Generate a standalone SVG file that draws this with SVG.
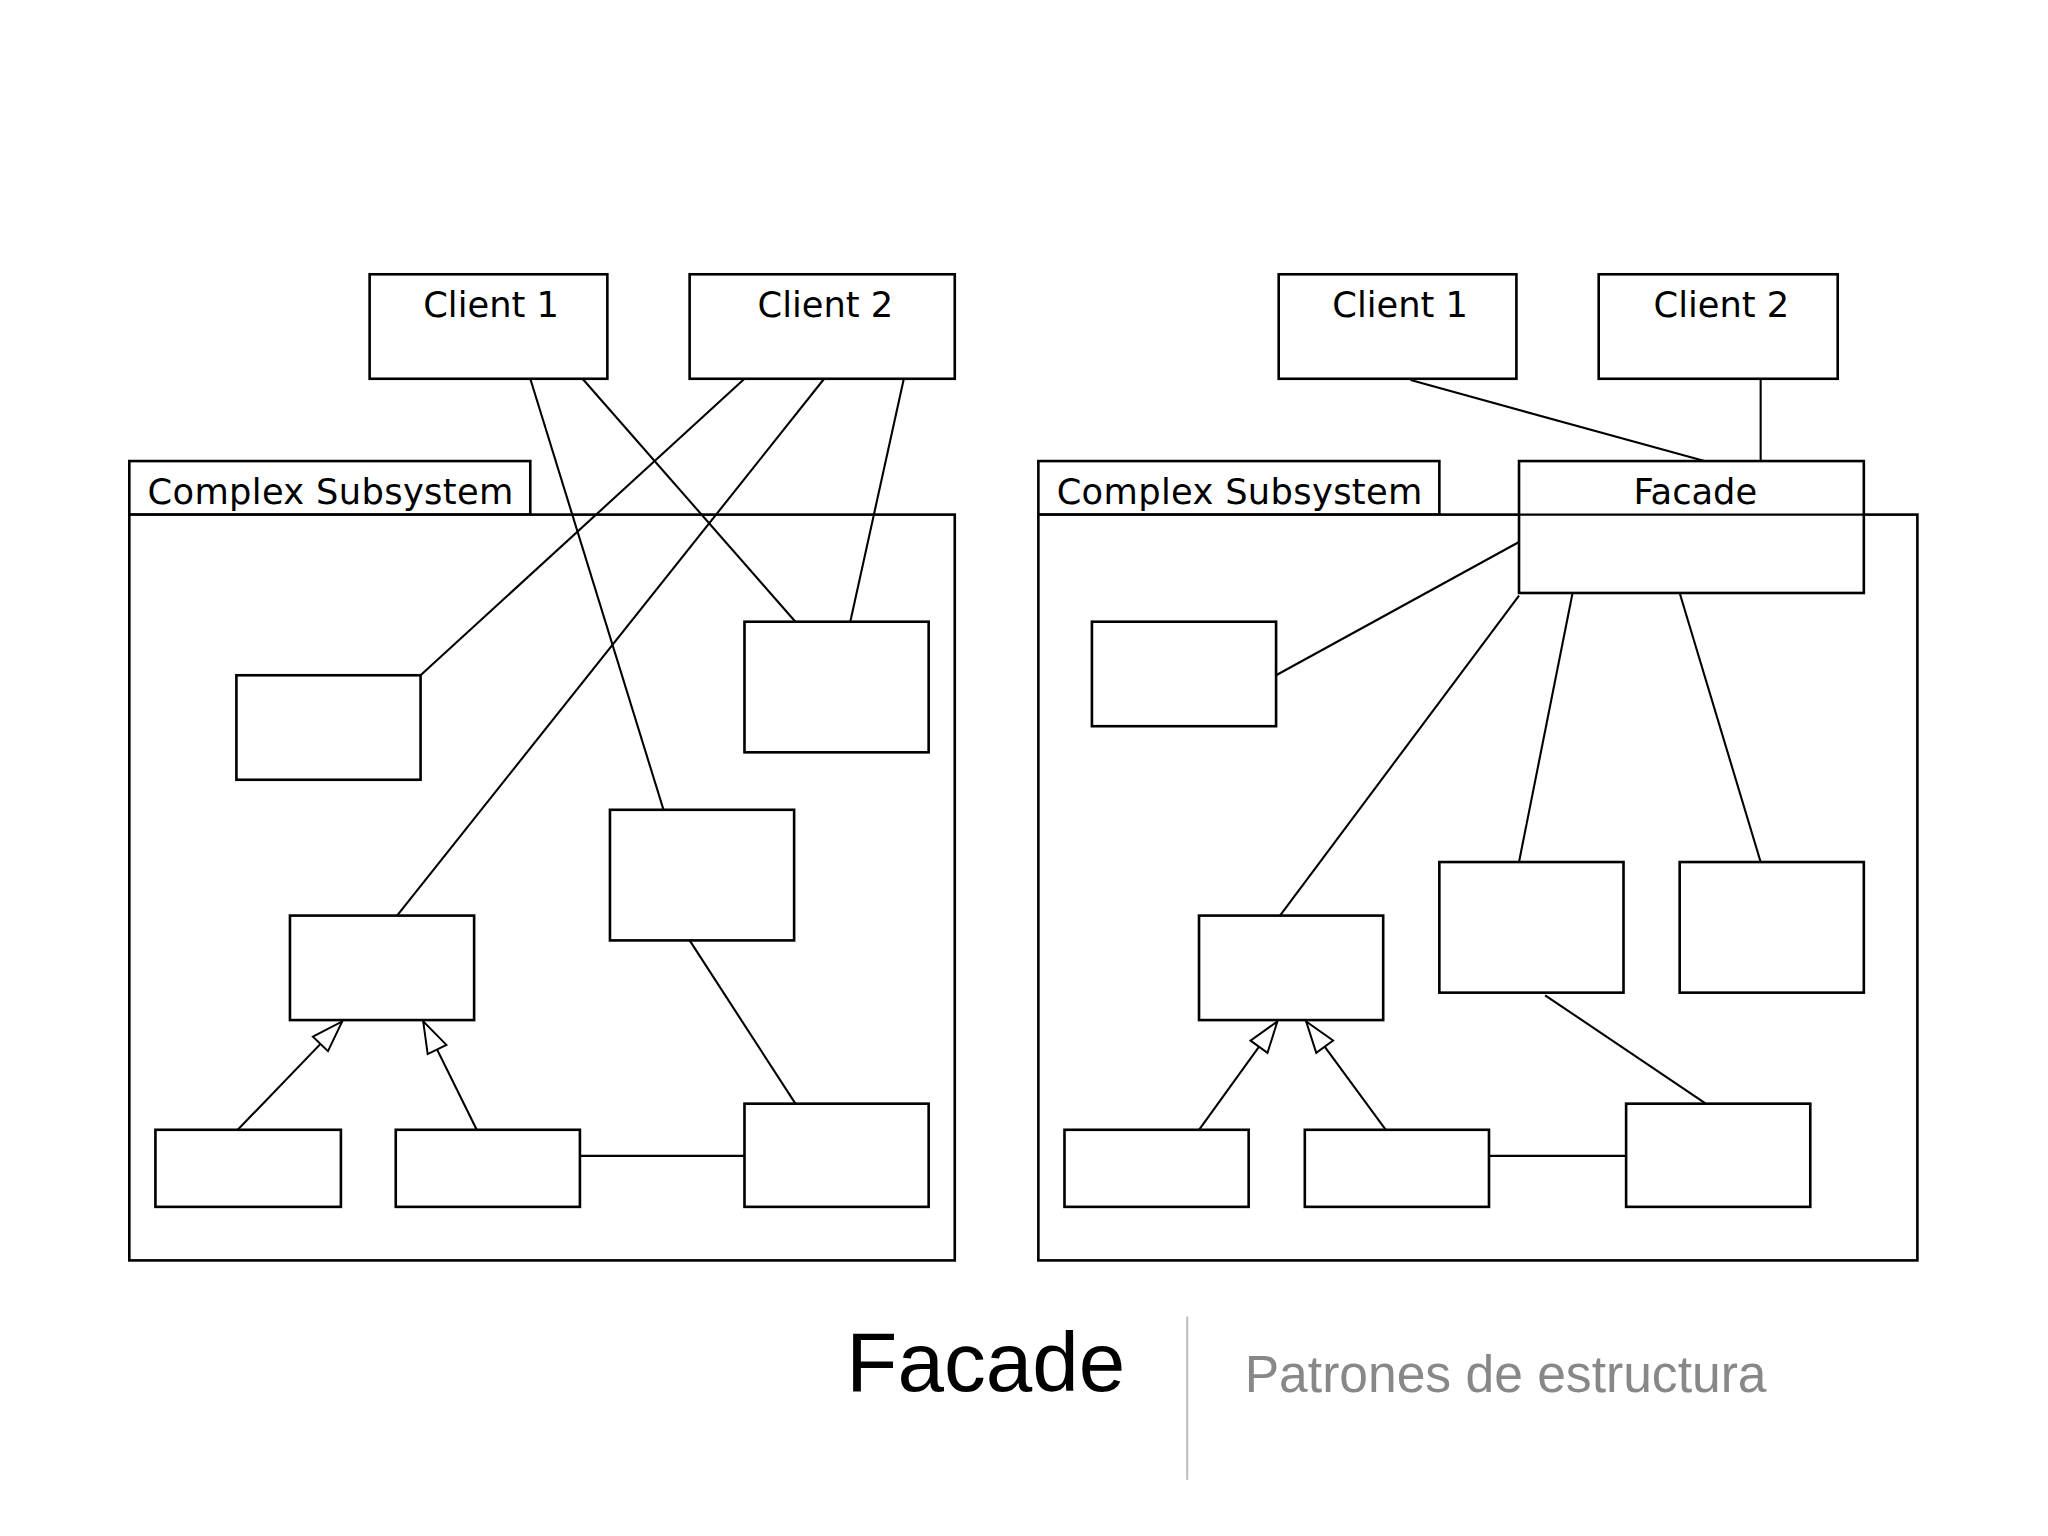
<svg xmlns="http://www.w3.org/2000/svg" width="2048" height="1536" viewBox="0 0 2048 1536">
<style>
rect{fill:#fff;stroke:#000;stroke-width:2}
line{stroke:#000;stroke-width:1.6}
.l{font-family:"DejaVu Sans",sans-serif;font-size:27px;fill:#000}
.c{text-anchor:middle}
</style>
<defs><marker id="tri" markerWidth="28" markerHeight="28" refX="26" refY="10" orient="auto" markerUnits="userSpaceOnUse"><path d="M2,2 L26,10 L2,18 Z" fill="#fff" stroke="#000" stroke-width="1.5"/></marker></defs>
<rect width="2048" height="1536" style="stroke:none"/>
<g transform="scale(1.30612)">
<g id="left">
<g id="l-pkg"><rect x="99" y="353" width="307" height="41"/><rect x="99" y="394" width="632" height="571"/><text class="l" x="113" y="386" textLength="280">Complex Subsystem</text></g>
<g id="l-c1"><rect x="283" y="210" width="182" height="80"/><text class="l c" x="376" y="243">Client 1</text></g>
<g id="l-c2"><rect x="528" y="210" width="203" height="80"/><text class="l c" x="632" y="243">Client 2</text></g>
<g id="l-a"><rect x="181" y="517" width="141" height="80"/></g>
<g id="l-b"><rect x="570" y="476" width="141" height="100"/></g>
<g id="l-cc"><rect x="467" y="620" width="141" height="100"/></g>
<g id="l-d"><rect x="222" y="701" width="141" height="80"/></g>
<g id="l-e"><rect x="119" y="865" width="142" height="59"/></g>
<g id="l-f"><rect x="303" y="865" width="141" height="59"/></g>
<g id="l-g"><rect x="570" y="845" width="141" height="79"/></g>
</g>
<g id="right">
<g id="r-pkg"><rect x="795" y="353" width="307" height="41"/><rect x="795" y="394" width="673" height="571"/><text class="l" x="809" y="386" textLength="280">Complex Subsystem</text></g>
<g id="r-c1"><rect x="979" y="210" width="182" height="80"/><text class="l c" x="1072" y="243">Client 1</text></g>
<g id="r-c2"><rect x="1224" y="210" width="183" height="80"/><text class="l c" x="1318" y="243">Client 2</text></g>
<g id="r-facade"><rect x="1163" y="353" width="264" height="101"/><line x1="1163" y1="394" x2="1427" y2="394"/><text class="l c" x="1298" y="386">Facade</text></g>
<g id="r-a"><rect x="836" y="476" width="141" height="80"/></g>
<g id="r-d"><rect x="918" y="701" width="141" height="80"/></g>
<g id="r-h"><rect x="1102" y="660" width="141" height="100"/></g>
<g id="r-i"><rect x="1286" y="660" width="141" height="100"/></g>
<g id="r-e"><rect x="815" y="865" width="141" height="59"/></g>
<g id="r-f"><rect x="999" y="865" width="141" height="59"/></g>
<g id="r-g"><rect x="1245" y="845" width="141" height="79"/></g>
</g>
<g id="connectors">
<line x1="406" y1="290" x2="508" y2="620"/>
<line x1="446" y1="290" x2="609" y2="476"/>
<line x1="570" y1="290" x2="322" y2="517"/>
<line x1="631" y1="290" x2="304" y2="701"/>
<line x1="692" y1="290" x2="651" y2="476"/>
<line x1="528" y1="720" x2="609" y2="845"/>
<line x1="444" y1="885" x2="570" y2="885"/>
<line x1="182" y1="865" x2="262" y2="782" marker-end="url(#tri)"/>
<line x1="365" y1="865" x2="324" y2="782" marker-end="url(#tri)"/>
<line x1="1080" y1="291" x2="1305" y2="353"/>
<line x1="1348" y1="290" x2="1348" y2="353"/>
<line x1="977" y1="517" x2="1163" y2="415"/>
<line x1="980" y1="701" x2="1163" y2="456"/>
<line x1="1163" y1="660" x2="1204" y2="454"/>
<line x1="1348" y1="660" x2="1286" y2="454"/>
<line x1="1183" y1="762" x2="1306" y2="845"/>
<line x1="1140" y1="885" x2="1245" y2="885"/>
<line x1="918" y1="865" x2="978" y2="782" marker-end="url(#tri)"/>
<line x1="1061" y1="865" x2="1000" y2="782" marker-end="url(#tri)"/>
</g>
<text x="648" y="1065" style="font-family:'Liberation Sans',Arial,sans-serif;font-size:64px;fill:#000">Facade</text>
<line x1="909" y1="1008" x2="909" y2="1133" style="stroke:#bbb;stroke-width:1.5"/>
<text x="953" y="1066" style="font-family:'Liberation Sans',Arial,sans-serif;font-size:39.5px;fill:#888">Patrones de estructura</text>
</g>
</svg>
